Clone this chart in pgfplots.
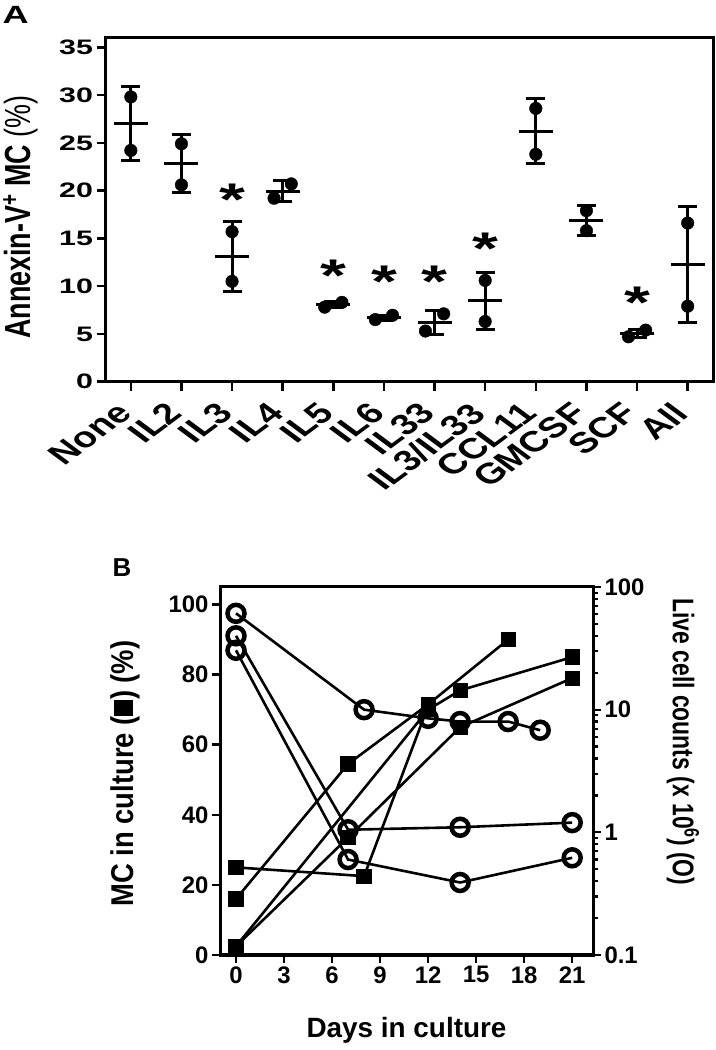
\documentclass[border=0pt]{standalone}
\usepackage{fontspec}
\setmainfont{Liberation Sans}
\newfontfamily\wfont{Liberation Sans}[FakeStretch=1.45]
\usepackage{graphicx}
\usepackage{pgfplots}
\pgfplotsset{compat=1.18}
\newcommand{\fs}[1]{\fontsize{#1}{#1}\selectfont}
\newcommand{\xl}[1]{\scalebox{1.35}[1]{\rotatebox{45}{#1}}}
\begin{document}
\begin{tikzpicture}
\path[use as bounding box] (0bp,0bp) rectangle (716bp,1050bp);
% ---------------- Panel A ----------------
\begin{axis}[
  at={(105.5bp,668.3bp)}, anchor=south west, scale only axis,
  width=607.5bp, height=344bp,
  xmin=-0.5, xmax=11.5, ymin=0, ymax=36,
  xtick={0,...,11},
  xticklabels={\xl{None},\xl{IL2},\xl{IL3},\xl{IL4},\xl{IL5},\xl{IL6},\xl{IL33},\xl{IL3/IL33},\xl{CCL11},\xl{GMCSF},\xl{SCF},\xl{All}},
  ytick={0,5,...,35},
  tick align=outside, tick pos=left,
  major tick length=9bp,
  every tick/.style={black, line width=2.6bp},
  axis line style={line width=3bp},
  /pgf/number format/assume math mode=true,
  yticklabel style={font=\wfont\bfseries\fs{21}},
  xticklabel style={font=\bfseries\fs{29}, anchor=north east, xshift=3bp, yshift=-10bp, inner sep=0pt},
  ylabel={\scalebox{1.35}[1]{\rotatebox{90}{Annexin-V\textsuperscript{+} MC {\mdseries (\%)}}}},
  every axis y label/.style={at={(axis description cs:-0.14,0.478)}, anchor=center, font=\bfseries\fs{27}},
  clip=false,
]
% means and SD
\addplot[black, only marks, mark=-, mark size=17bp, line width=3bp,
  error bars/.cd, y dir=both, y explicit, error mark=|,
  error bar style={line width=3bp},
  error mark options={mark size=9.5bp, line width=3bp}]
coordinates {
(0,27.0) +- (0,3.85)
(1,22.8) +- (0,3.05)
(2,13.1) +- (0,3.7)
(3,19.95) +- (0,1.1)
(4,8.05) +- (0,0.3)
(5,6.7) +- (0,0.25)
(6,6.2) +- (0,1.3)
(7,8.45) +- (0,3.0)
(8,26.2) +- (0,3.4)
(9,16.85) +- (0,1.6)
(10,5.05) +- (0,0.45)
(11,12.25) +- (0,6.1)
};
% individual points
\addplot[black, only marks, mark=*, mark size=6.3bp] coordinates {
(0,29.8) (0,24.2)
(1,24.9) (1,20.6)
(2,15.7) (2,10.5)
(2.83,19.2) (3.17,20.7)
(3.83,7.8) (4.17,8.3)
(4.83,6.5) (5.17,6.95)
(5.82,5.3) (6.18,7.1)
(7,10.6) (7,6.3)
(8,28.6) (8,23.8)
(9,17.9) (9,15.8)
(9.83,4.7) (10.17,5.4)
(11,16.6) (11,7.9)
};
% significance stars
\addplot[black, only marks, mark=none, nodes near coords, point meta=explicit symbolic,
  every node near coord/.append style={font=\wfont\bfseries\fs{46}, anchor=center, yshift=-9bp}]
coordinates {
(2,20.0) [*]
(4,12.0) [*]
(5,11.4) [*]
(6,11.4) [*]
(7,14.9) [*]
(10,9.2) [*]
};
\node[font=\wfont\bfseries\fs{25}] at (axis description cs:-0.148,1.065) {A};
\end{axis}
% ---------------- Panel B (left axis, squares) ----------------
\begin{axis}[
  at={(220bp,95bp)}, anchor=south west, scale only axis,
  width=373bp, height=368bp,
  xmin=-1, xmax=22.3, ymin=0, ymax=105,
  xtick={0,3,...,21}, ytick={0,20,...,100},
  tick align=outside, tick pos=left,
  major tick length=8bp,
  every tick/.style={black, line width=2.6bp},
  axis line style={line width=3bp},
  /pgf/number format/assume math mode=true,
  ticklabel style={font=\bfseries\fs{24}},
  xlabel={Days in culture},
  every axis x label/.style={at={(axis description cs:0.5,-0.204)}, anchor=center, font=\bfseries\fs{28}},
  ylabel={\scalebox{1.15}[1]{\rotatebox{90}{MC in culture (\rule{0.6em}{0.6em}) (\%)}}},
  every axis y label/.style={at={(axis description cs:-0.255,0.493)}, anchor=center, font=\bfseries\fs{27.5}},
  clip=false,
]
\addplot[black, line width=2.6bp, mark=square*, mark size=6.3bp] coordinates {(0,16) (7,54.5) (12,71.5) (17,90)};
\addplot[black, line width=2.6bp, mark=square*, mark size=6.3bp] coordinates {(0,2.5) (7,33.5) (14,65) (21,79)};
\addplot[black, line width=2.6bp, mark=square*, mark size=6.3bp] coordinates {(0,2.5) (12,70) (14,75.5) (21,85)};
\addplot[black, line width=2.6bp, mark=square*, mark size=6.3bp] coordinates {(0,25) (8,22.5) (12,71)};
\node[font=\bfseries\fs{26}] at (axis description cs:-0.263,1.052) {B};
\end{axis}
% ---------------- Panel B (right axis, circles) ----------------
\begin{axis}[
  at={(220bp,95bp)}, anchor=south west, scale only axis,
  width=373bp, height=368bp,
  xmin=-1, xmax=22.3, ymode=log, ymin=0.1, ymax=100,
  axis x line=none, axis y line*=right,
  ytick={0.1,1,10,100}, yticklabels={0.1,1,10,100},
  tick align=outside,
  major tick length=8bp, minor tick length=5bp,
  every tick/.style={black, line width=2.2bp},
  axis line style={line width=3bp},
  ticklabel style={font=\bfseries\fs{24}},
  ylabel={\scalebox{1.3}[1]{\rotatebox{-90}{Live cell counts (x 10\textsuperscript{6}) (O)}}},
  every axis y label/.style={at={(axis description cs:1.241,0.579)}, anchor=center, font=\bfseries\fs{23}},
  clip=false,
]
\addplot[black, line width=2.6bp, mark=o, mark size=8.5bp, every mark/.append style={line width=4.5bp}] coordinates {(0,61) (8,10) (12,8.5) (14,8) (17,8) (19,6.8)};
\addplot[black, line width=2.6bp, mark=o, mark size=8.5bp, every mark/.append style={line width=4.5bp}] coordinates {(0,40) (7,1.05) (14,1.1) (21,1.2)};
\addplot[black, line width=2.6bp, mark=o, mark size=8.5bp, every mark/.append style={line width=4.5bp}] coordinates {(0,30.5) (7,0.6) (14,0.39) (21,0.62)};
\end{axis}
\end{tikzpicture}
\end{document}
